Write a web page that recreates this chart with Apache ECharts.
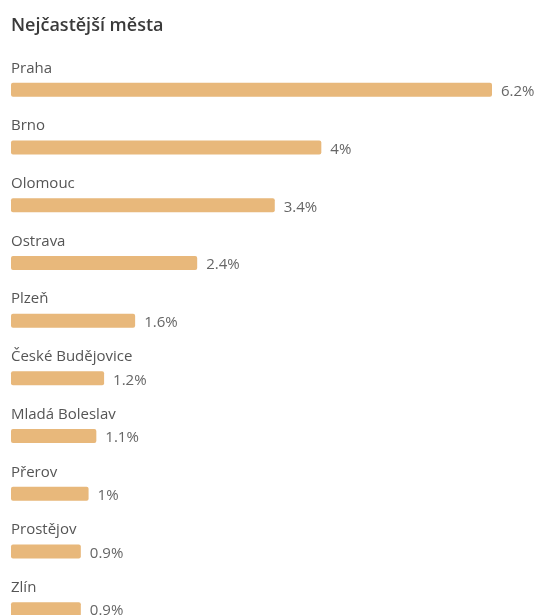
<!DOCTYPE html>
<html>
<head>
<meta charset="utf-8">
<script src="https://cdn.jsdelivr.net/npm/echarts@6/dist/echarts.min.js"></script>
<style>
  html, body { margin: 0; padding: 0; background: #fff; }
  #chart { width: 536px; height: 615px; }
</style>
</head>
<body>
<div id="chart"></div>
<script>
// nejčastější města – podíl v procentech
const cities = ['Praha', 'Brno', 'Olomouc', 'Ostrava', 'Plzeň', 'České Budějovice', 'Mladá Boleslav', 'Přerov', 'Prostějov', 'Zlín']
const shares = [6.2, 4, 3.4, 2.4, 1.6, 1.2, 1.1, 1, 0.9, 0.9]

const chart = echarts.init(document.getElementById('chart'))

const option = {
  animation: false,
  textStyle: { fontFamily: 'Open Sans' },
  title: {
    text: 'Nejčastější města',
    left: 6,
    top: 12,
    textStyle: { fontSize: 18, fontWeight: 600, color: '#3a3a3a', fontFamily: 'Open Sans' }
  },
  // poslední řádek (Zlín) je v originálu useknutý dole
  grid: { left: 11, right: 44, top: 61, bottom: -23, outerBoundsMode: 'none' },
  xAxis: {
    type: 'value',
    min: 0,
    max: 'dataMax',
    show: false
  },
  yAxis: {
    type: 'category',
    data: cities,
    inverse: true,
    axisLine: { show: false },
    axisTick: { show: false },
    axisLabel: {
      inside: true,
      margin: 0,
      align: 'left',
      verticalAlign: 'bottom',
      padding: [0, 0, 14, 0],
      fontSize: 15,
      color: '#555'
    }
  },
  series: [
    {
      type: 'bar',
      data: shares,
      barWidth: 14,
      itemStyle: { color: '#e8b87b', borderRadius: 2 },
      label: {
        show: true,
        position: 'right',
        distance: 9,
        offset: [0, 2],
        fontSize: 15,
        color: '#666',
        formatter: p => p.value + '%'
      }
    }
  ]
}

chart.setOption(option)
</script>
</body>
</html>
